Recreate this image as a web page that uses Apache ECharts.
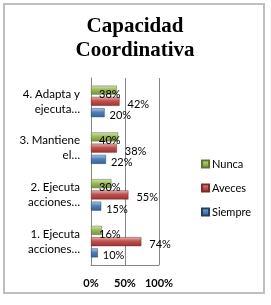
<!DOCTYPE html>
<html>
<head>
<meta charset="utf-8">
<script src="https://cdn.jsdelivr.net/npm/echarts@6/dist/echarts.min.js"></script>
<style>
  html, body { margin: 0; padding: 0; background: #fff; }
  #main { width: 271px; height: 305px; }
</style>
</head>
<body>
<div id="main"></div>
<script>
var categories = ['1. Ejecuta\nacciones…', '2. Ejecuta\nacciones…', '3. Mantiene\nel…', '4. Adapta y\nejecuta…'];
var nunca = [16, 30, 40, 38];
var aveces = [74, 55, 38, 42];
var siempre = [10, 15, 22, 20];
var xTicks = [0, 50, 100];

var myChart = echarts.init(document.getElementById('main'));

function grad(light, mid, dark) {
    return new echarts.graphic.LinearGradient(0, 0, 0, 1, [
        {offset: 0, color: light},
        {offset: 0.45, color: mid},
        {offset: 1, color: dark}
    ]);
}

var labelFont = {fontFamily: 'Lato', fontSize: 11, color: '#000'};

option = {
    animation: false,
    graphic: [{
        type: 'rect',
        shape: {x: 4, y: 4, width: 260, height: 289},
        style: {fill: 'none', stroke: '#bfbfbf', lineWidth: 2},
        silent: true
    }, {
        // title drawn as graphic text so the serif face is used
        type: 'text',
        x: 135,
        y: 15,
        silent: true,
        style: {
            text: 'Capacidad\nCoordinativa',
            font: 'bold 21px "Liberation Serif", "Times New Roman", serif',
            lineHeight: 24,
            align: 'center',
            verticalAlign: 'top',
            fill: '#000'
        }
    }],
    legend: {
        orient: 'vertical',
        left: 196,
        top: 153,
        itemWidth: 7,
        itemHeight: 7,
        itemGap: 12,
        icon: 'rect',
        data: ['Nunca', 'Aveces', 'Siempre'],
        textStyle: {fontFamily: 'Lato', fontSize: 11, color: '#000', lineHeight: 12, padding: [0, 0, 0, -2]}
    },
    grid: {left: 91, right: 112, top: 78, bottom: 40},
    xAxis: {
        type: 'value',
        min: 0,
        max: 100,
        interval: 50,
        axisLine: {show: true, lineStyle: {color: '#868686'}},
        axisTick: {show: false},
        splitLine: {show: true, lineStyle: {color: '#868686'}},
        axisLabel: {
            margin: 13,
            fontFamily: 'Lato',
            fontSize: 11,
            fontWeight: 'bold',
            color: '#000',
            formatter: '{value}%'
        }
    },
    yAxis: {
        type: 'category',
        data: categories,
        axisLine: {show: true, lineStyle: {color: '#868686'}},
        axisTick: {show: false},
        axisLabel: {
            margin: 11,
            fontFamily: 'Lato',
            fontSize: 11.5,
            lineHeight: 15,
            color: '#000'
        }
    },
    series: [
        {
            name: 'Nunca',
            type: 'bar',
            data: nunca,
            barWidth: 9,
            barGap: '25%',
            itemStyle: {color: grad('#d7e4bd', '#9bbb59', '#76923c'), borderColor: '#5f7530', borderWidth: 0.5},
            label: Object.assign({show: true, position: 'insideLeft', distance: 8, offset: [0, 4], formatter: '{c}%'}, labelFont)
        },
        {
            name: 'Aveces',
            type: 'bar',
            data: aveces,
            barWidth: 9,
            itemStyle: {color: grad('#e6b9b8', '#c0504d', '#943634'), borderColor: '#7f2a28', borderWidth: 0.5},
            label: Object.assign({show: true, position: 'right', distance: 8, offset: [0, 3], formatter: '{c}%'}, labelFont)
        },
        {
            name: 'Siempre',
            type: 'bar',
            data: siempre,
            barWidth: 9,
            itemStyle: {color: grad('#b9cde5', '#4f81bd', '#366092'), borderColor: '#244061', borderWidth: 0.5},
            label: Object.assign({show: true, position: 'right', distance: 5, offset: [0, 3], formatter: '{c}%'}, labelFont)
        }
    ]
};

myChart.setOption(option);
</script>
</body>
</html>
